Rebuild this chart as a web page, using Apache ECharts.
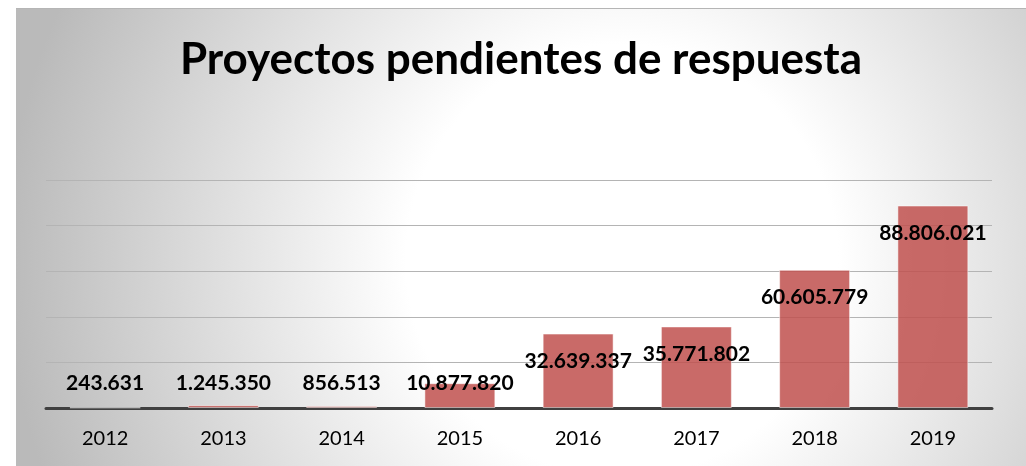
<!DOCTYPE html>
<html>
<head>
<meta charset="utf-8">
<script src="https://cdn.jsdelivr.net/npm/echarts@6/dist/echarts.min.js"></script>
<style>
  html, body { margin: 0; padding: 0; background: #fff; }
  #chart {
    position: absolute;
    left: 16px;
    top: 8px;
    width: 1010px;
    height: 458px;
    border-top: 1px solid #b5b5b5;
    box-sizing: border-box;
  }
</style>
</head>
<body>
<div id="chart"></div>
<script>
const years = ['2012', '2013', '2014', '2015', '2016', '2017', '2018', '2019'];
const pendientes = [243631, 1245350, 856513, 10877820, 32639337, 35771802, 60605779, 88806021];

const chart = echarts.init(document.getElementById('chart'));

// Spanish thousands separator
const fmt = (v) => String(v).replace(/\B(?=(\d{3})+(?!\d))/g, '.');

// Excel keeps "inside end" labels above the axis for short bars
const seriesData = pendientes.map((v) => ({
  value: v,
  label: v < 15000000
    ? { position: 'insideBottom', distance: 14 }
    : { position: 'insideTop', distance: 17 }
}));

chart.setOption({
  backgroundColor: {
    type: 'radial',
    x: 0.6,
    y: 0.55,
    r: 1.35,
    colorStops: [
      { offset: 0, color: '#ffffff' },
      { offset: 0.35, color: '#ffffff' },
      { offset: 1, color: '#bababa' }
    ]
  },
  title: {
    text: 'Proyectos pendientes de respuesta',
    left: 'center',
    top: 24,
    textStyle: {
      fontFamily: 'Lato',
      fontWeight: 'bold',
      fontSize: 44,
      color: '#000'
    }
  },
  grid: {
    left: 30,
    right: 34,
    top: 171,
    bottom: 58
  },
  xAxis: {
    type: 'category',
    data: years,
    axisTick: { show: false },
    axisLine: { lineStyle: { color: '#404040', width: 3 } },
    axisLabel: {
      fontFamily: 'Lato',
      fontSize: 20,
      color: '#000',
      margin: 21
    }
  },
  yAxis: {
    type: 'value',
    min: 0,
    max: 100000000,
    interval: 20000000,
    axisLabel: { show: false },
    axisLine: { show: false },
    axisTick: { show: false },
    splitLine: { lineStyle: { color: '#b4b4b4', width: 1 } }
  },
  series: [{
    type: 'bar',
    data: seriesData,
    barCategoryGap: '40%',
    itemStyle: {
      color: 'rgba(192, 80, 77, 0.85)',
      borderColor: 'rgba(255, 255, 255, 0.5)',
      borderWidth: 1
    },
    label: {
      show: true,
      formatter: (p) => fmt(p.value),
      fontFamily: 'Lato',
      fontWeight: 'bold',
      fontSize: 21,
      color: '#000'
    }
  }]
});
</script>
</body>
</html>
